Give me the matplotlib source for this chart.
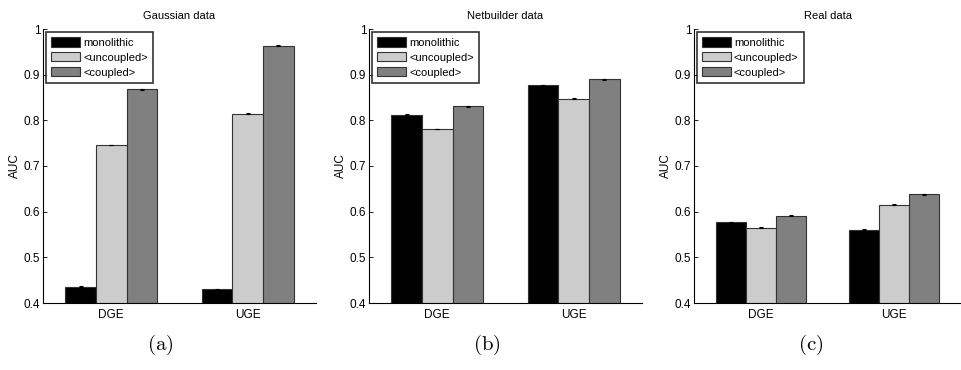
import matplotlib
matplotlib.use("Agg")
import matplotlib.pyplot as plt
import numpy as np

plt.rcParams['font.family'] = ['Liberation Sans', 'DejaVu Sans']
plt.rcParams['mathtext.fontset'] = 'cm'

groups = ["DGE", "UGE"]
series = ["monolithic", "<uncoupled>", "<coupled>"]
colors = ["#000000", "#cccccc", "#808080"]
titles = ["Gaussian data", "Netbuilder data", "Real data"]
panel_labels = ["a", "b", "c"]

gauss_mono = [0.436, 0.430]
gauss_unc = [0.746, 0.814]
gauss_cpl = [0.868, 0.963]

net_mono = [0.812, 0.877]
net_unc = [0.781, 0.847]
net_cpl = [0.831, 0.890]

real_mono = [0.577, 0.560]
real_unc = [0.565, 0.615]
real_cpl = [0.591, 0.638]

err = 0.001

panels = [
    [gauss_mono, gauss_unc, gauss_cpl],
    [net_mono, net_unc, net_cpl],
    [real_mono, real_unc, real_cpl],
]

W, H = 961, 370
fig = plt.figure(figsize=(W / 100, H / 100), dpi=100)

lefts = [43, 369, 694]
rights = [316, 642, 961]
top, bottom = 29, 303
label_x = [160, 487, 811]

x = np.arange(1, len(groups) + 1)
bw = 0.225
for i, data in enumerate(panels):
    ax = fig.add_axes([lefts[i] / W, (H - bottom) / H, (rights[i] - lefts[i]) / W, (bottom - top) / H])
    for j, vals in enumerate(data):
        ax.bar(x + (j - 1) * bw, vals, width=bw, color=colors[j], edgecolor="#333333",
               linewidth=0.8, label=series[j], zorder=2)
        ax.errorbar(x + (j - 1) * bw, vals, yerr=err, fmt="none", ecolor="black",
                    elinewidth=0.8, capsize=1.5, capthick=0.8, zorder=3)
    ax.set_xlim(0.5, 2.5)
    ax.set_ylim(0.4, 1.0)
    ax.set_yticks([0.4, 0.5, 0.6, 0.7, 0.8, 0.9, 1.0])
    ax.set_yticklabels(["0.4", "0.5", "0.6", "0.7", "0.8", "0.9", "1"])
    ax.set_xticks(x)
    ax.set_xticklabels(groups)
    ax.tick_params(direction="in", length=3, labelsize=8.5, width=0.6, pad=2)
    ax.tick_params(axis="x", length=0, pad=4)
    ax.spines["top"].set_visible(False)
    ax.spines["right"].set_visible(False)
    ax.spines["left"].set_linewidth(0.8)
    ax.spines["bottom"].set_linewidth(0.8)
    ax.set_ylabel("AUC", fontsize=8.5, labelpad=2)
    ax.set_title(titles[i], fontsize=8, pad=7)
    leg = ax.legend(loc="upper left", fontsize=8, frameon=True, fancybox=False,
                    edgecolor="black", borderpad=0.45, labelspacing=0.4,
                    handlelength=2.6, handleheight=0.9, handletextpad=0.25,
                    borderaxespad=0.3)
    leg.get_frame().set_linewidth(1.2)
    fig.text(label_x[i] / W, 1 - 345 / H, r"$\mathrm{(" + panel_labels[i] + r")}$",
             ha="center", va="center", fontsize=15)

fig.savefig("out.png", dpi=100)
